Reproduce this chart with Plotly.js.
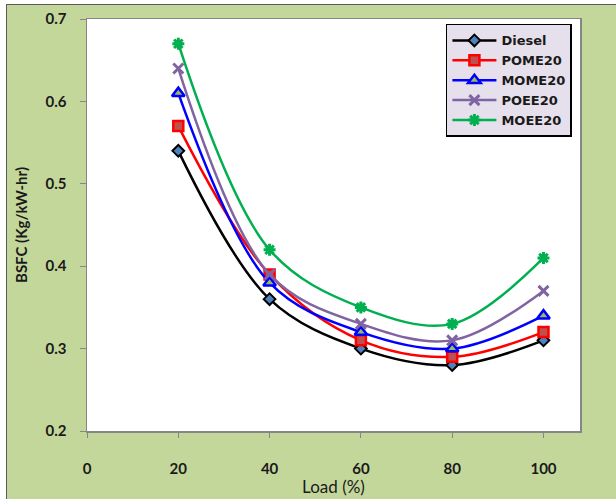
<!DOCTYPE html>
<html>
<head>
<meta charset="utf-8">
<script src="https://cdn.plot.ly/plotly-3.0.1.min.js"></script>
<style>
html,body{margin:0;padding:0;background:#ffffff;width:616px;height:499px;overflow:hidden;}
#frame{position:absolute;left:6px;top:4px;width:620px;height:500px;border:1px solid #5a5a5a;background:#c4d79b;}
#chart{position:absolute;left:0;top:0;}
</style>
</head>
<body>
<div id="frame"><div id="chart"></div></div>
<script>
const load = [20, 40, 60, 80, 100];
const diesel = [0.54, 0.36, 0.30, 0.28, 0.31];
const pome20 = [0.57, 0.39, 0.31, 0.29, 0.32];
const mome20 = [0.61, 0.38, 0.32, 0.30, 0.34];
const poee20 = [0.64, 0.39, 0.33, 0.31, 0.37];
const moee20 = [0.67, 0.42, 0.35, 0.33, 0.41];
const xTicks = [0, 20, 40, 60, 80, 100];
const yTicks = [0.2, 0.3, 0.4, 0.5, 0.6, 0.7];

function tr(name, y, color, symbol, fill, mcolor, size, lw){
  return {
    x: load, y: y, name: name, type: 'scatter', mode: 'lines+markers',
    line: {color: color, width: 2.5, shape: 'spline', smoothing: 1},
    marker: {symbol: symbol, size: size, color: fill, line: {color: mcolor, width: lw}}
  };
}
const data = [
  tr('Diesel', diesel, '#000000', 'diamond', '#4f81bd', '#000000', 9, 2),
  tr('POME20', pome20, '#ff0000', 'square', '#c0504d', '#ff0000', 10, 2.5),
  tr('MOME20', mome20, '#0000ff', 'triangle-up', '#9bbb59', '#0000ff', 11, 2.5),
  tr('POEE20', poee20, '#8064a2', 'x-thin-open', '#8064a2', '#8064a2', 10, 3),
  tr('MOEE20', moee20, '#00b050', 'asterisk-open', '#00b050', '#00b050', 10, 3)
];
const FAM = 'Lato, "Liberation Sans", sans-serif';
const tickFont = {family: FAM, size: 15, color: '#1a1a1a', weight: 'bold'};
const layout = {
  width: 609, height: 494,
  margin: {l: 80, r: 36, t: 14, b: 68},
  paper_bgcolor: '#c4d79b',
  plot_bgcolor: '#ffffff',
  showlegend: true,
  font: {family: FAM, color: '#1a1a1a'},
  xaxis: {
    range: [0, 108], tickvals: xTicks, ticktext: xTicks.map(String),
    showgrid: false, zeroline: false,
    showline: true, linecolor: '#868686', linewidth: 1.5, mirror: true,
    ticks: 'outside', ticklen: 5, tickcolor: '#868686',
    ticklabelstandoff: 18,
    tickfont: tickFont,
    title: {text: 'Load (%)', font: {family: FAM, size: 17, color: '#1a1a1a'}, standoff: 2}
  },
  yaxis: {
    range: [0.2, 0.7], tickvals: yTicks, ticktext: yTicks.map(v => v.toFixed(1)),
    showgrid: false, zeroline: false,
    showline: true, linecolor: '#868686', linewidth: 1.5, mirror: true,
    ticks: 'outside', ticklen: 6, tickcolor: '#868686',
    ticklabelstandoff: 10,
    tickfont: tickFont,
    title: {text: 'BSFC (Kg/kW-hr)', font: {family: FAM, size: 15, color: '#1a1a1a', weight: 'bold'}, standoff: 14}
  },
  legend: {
    x: 0.728, y: 0.988, xanchor: 'left', yanchor: 'top',
    bgcolor: '#e6e0ec', bordercolor: '#000000', borderwidth: 1.5,
    font: {family: '"DejaVu Sans", ' + FAM, size: 13, color: '#1a1a1a', weight: 'bold'},
    tracegroupgap: 0, itemwidth: 44
  }
};
Plotly.newPlot('chart', data, layout, {displayModeBar: false, staticPlot: true});
</script>
</body>
</html>
